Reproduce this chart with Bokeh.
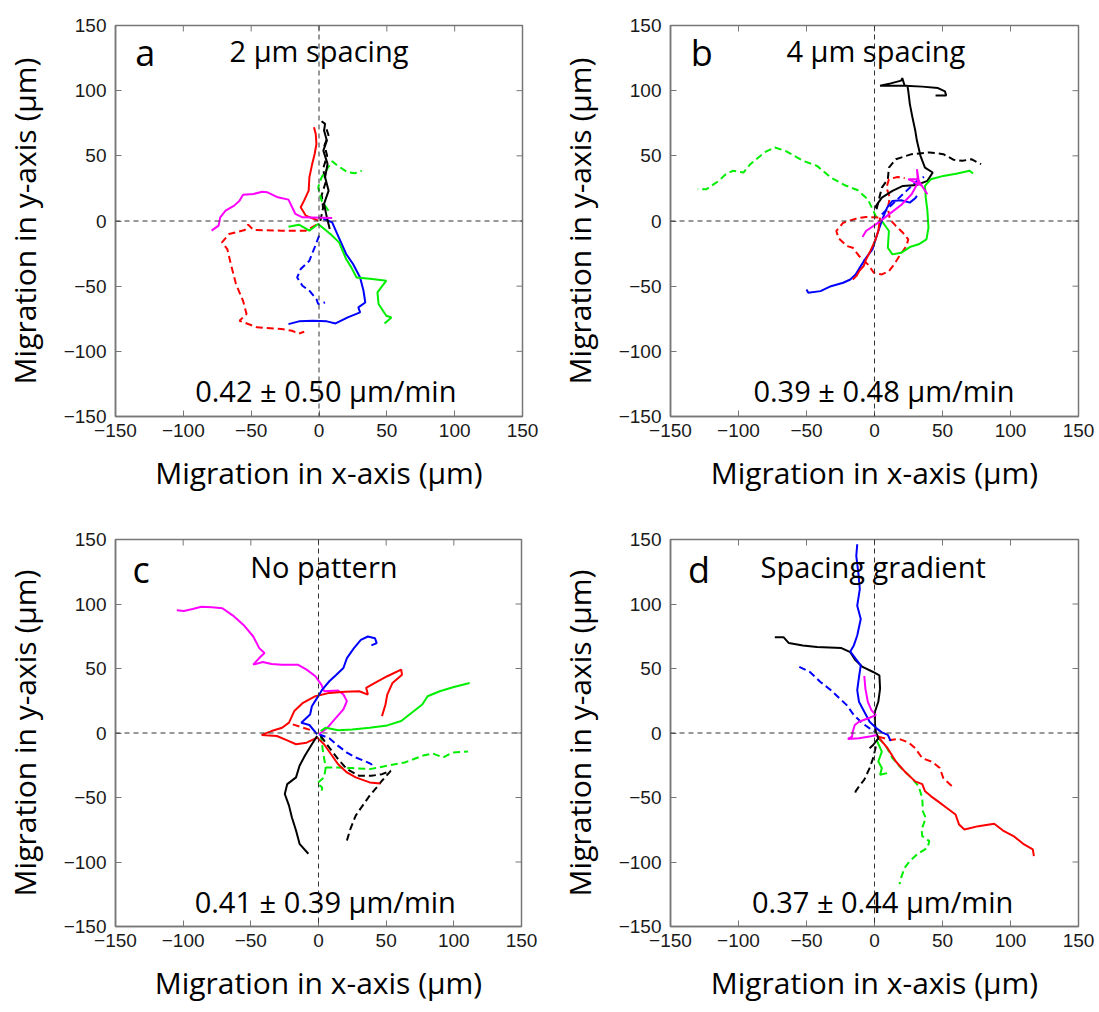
from bokeh.plotting import figure
from bokeh.layouts import column, row
from bokeh.models import Range1d, FixedTicker, Span, Label
from bokeh.embed import file_html
from bokeh.resources import INLINE

# ---------------- data ----------------
TICKS = [-150, -100, -50, 0, 50, 100, 150]
PANEL_LETTERS = ["a", "b", "c", "d"]
PANEL_TITLES = ["2 μm spacing", "4 μm spacing", "No pattern", "Spacing gradient"]
PANEL_SPEEDS = ["0.42 ± 0.50 μm/min", "0.39 ± 0.48 μm/min", "0.41 ± 0.39 μm/min", "0.37 ± 0.44 μm/min"]
X_LABEL = "Migration in x-axis (μm)"
Y_LABEL = "Migration in y-axis (μm)"

# panel a : 2 um spacing
a_magenta_x = [9.7, -12.2, -17.4, -22.5, -30.3, -38, -41.9, -48.3, -56, -58.6, -62.5, -68.9, -72.8, -74, -79.2]
a_magenta_y = [2.3, 2.8, 5.4, 16.4, 18.2, 22, 22.5, 20.7, 20.2, 15.6, 11.8, 7.9, 2.8, -3.6, -7.4]
a_red_dash_x = [-2, -9.7, -27.7, -48.3, -52.2, -54.7, -66.3, -71.5, -67.6, -65, -61.2, -56, -53.4, -58.6, -45.7, -27.7, -20, -14.8, -10.9]
a_red_dash_y = [-3, -7.4, -7.4, -6.9, -2.8, -6.9, -10, -16.4, -21.5, -33, -48.4, -61.2, -71.4, -76.5, -81.6, -82.9, -84.2, -86.3, -85]
a_red_x = [-0.6, -9.7, -13.5, -11, -7.6, -7.1, -5, -3.2, -1.9, -2.4, -3.7]
a_red_y = [0.3, 4.1, 10.5, 15.6, 23.3, 33.5, 43.8, 51.4, 59.1, 66.8, 71.9]
a_black_x = [7.9, 5.8, 3.7, 7.1, 4.5, 6.3, 3.2, 5.8, 3.7, 4.5, 1.9]
a_black_y = [-6.1, 2.8, 13.1, 23.3, 33.5, 43.8, 54, 61.7, 69.4, 74.5, 76.5]
a_black_dash_x = [1, 3, 2, 5, 3, 6, 4, 7, 5]
a_black_dash_y = [0, 10, 20, 30, 40, 50, 58, 66, 72]
a_green_dash_x = [7, 1.9, -0.6, 1.9, 9.7, 13.5, 21.2, 26.4, 31.5]
a_green_dash_y = [7.9, 15.6, 25.9, 33.5, 45.8, 42.5, 37.4, 36.6, 38.6]
a_green_x = [-22.5, -14.8, -7.1, -0.6, 8.4, 14.8, 20, 23.8, 27.7, 39.3, 49.6, 43.1, 43.9, 49.6, 53.4, 48.3]
a_green_y = [-4.4, -2.8, -7.4, -2.3, -10, -16.4, -29.2, -35.6, -43.3, -44.5, -45.8, -54.8, -63.7, -72.7, -74, -78.6]
a_blue_x = [3.2, 9.7, 13.5, 20, 25.1, 30.3, 32.8, 34.1, 29, 30.3, 21.2, 12.2, 5.8, -4.5, -14.8, -22.5]
a_blue_y = [1.5, -1, -10, -25.3, -33, -43.3, -53.5, -62.5, -66.3, -70.1, -74, -78.6, -77, -76.5, -77, -79.1]
a_blue_dash_x = [0.1, -3.2, -7.1, -13.5, -16.1, -12.2, -7.1, -1.9, -0.6, 4.5]
a_blue_dash_y = [-11.3, -20.2, -30.5, -36.9, -43.3, -49.7, -53.5, -59.9, -63.7, -62.5]

# panel b : 4 um spacing
b_black_x = [0.3, 5.4, 13.2, 20.9, 31.2, 38.9, 42.8, 37.1, 33.8, 31.2, 30, 27.9, 26, 24.8, 24.2, 4.1, 11.9, 19.6, 20.4, 22.2, 35.1, 46.7, 51.8, 52.7, 44.9]
b_black_y = [10.3, 17.9, 23.1, 26.9, 27.7, 30.8, 37.2, 41, 50, 61.5, 69.2, 79.5, 89.7, 100, 103.8, 103.8, 105.6, 107.7, 109.7, 103.8, 103.1, 102, 99.5, 96.2, 96.2]
b_black_dash_x = [1.5, 5.4, 9.8, 10.6, 15.7, 27.3, 40.2, 50.6, 58.3, 64.7, 71.2, 78.4]
b_black_dash_y = [9, 25.6, 32.1, 41, 47.4, 51.3, 52.6, 51.3, 46.9, 46.2, 47.4, 43.6]
b_green_dash_x = [1.5, -4.9, -12.6, -21.7, -32, -42.3, -52.6, -65.5, -73.3, -81, -91.3, -96.4, -104.2, -109.4, -114.5, -123.6, -130]
b_green_dash_y = [2.6, 16.7, 23.8, 27.4, 33.3, 42.3, 46.2, 53.8, 56.4, 52.6, 43.6, 37.2, 38.5, 35.9, 30.8, 24.4, 24.4]
b_green_x = [5.4, 10.6, 9.8, 13.2, 19.6, 26, 32.5, 38.2, 39.7, 38.9, 37.7, 37.1, 41.5, 50.6, 60.9, 69.9, 72.5]
b_green_y = [0, -7.7, -20.5, -25.6, -24.4, -20, -17.9, -14.1, -5.1, 7.7, 17.9, 26.9, 32.1, 34.6, 36.4, 38.5, 36.4]
b_red_dash_x = [2.8, -6.2, -12.6, -23, -28.1, -26.3, -20.4, -16, -11.3, -4.9, -0.5, 5.4, 10.6, 14.4, 19.1, 23.5, 24.8, 20.9, 15.7, 11.3, 9.8, 11.3, 8.8, 10.6, 17, 22.2]
b_red_dash_y = [2.6, 3.1, 2.1, -1.3, -7.7, -13.3, -19.2, -20.5, -26.9, -33.3, -39.7, -41, -38.5, -33.3, -25.6, -19.2, -14.1, -9, -3.8, 1.3, 10.3, 17.9, 25.6, 32.1, 33.8, 32.8]
b_red_x = [4.1, 2.8, 0.3, -3.1, -6.2, -8, -11.3, -13.4, -16]
b_red_y = [2.6, -7.7, -15.4, -23.1, -29.5, -34.6, -38.5, -42.3, -44.9]
b_blue_x = [-50, -48.7, -39.7, -32, -23, -17.8, -13.9, -10.1, -6.2, -1.5, 1, 2.8, 6.2, 9.3, 13.2, 19.6, 26, 29.9, 31.2]
b_blue_y = [-52.6, -55.1, -53.8, -50, -47.4, -44.9, -41, -34.6, -28.2, -21.8, -13.3, -7.7, 2.6, 10.3, 15.4, 15.9, 14.1, 17.4, 19.2]
b_blue_dash_x = [5.4, 15.7, 23.5, 31.2, 36.4]
b_blue_dash_y = [5.1, 15.4, 23.1, 30.8, 33.8]
b_magenta_x = [-8.8, -6.2, 2.8, 10.6, 19.6, 27.3, 32, 31.2, 32.5, 38.9, 35, 24.8, 32.5]
b_magenta_y = [-12.3, -7.7, -1.3, 5.1, 12.3, 20.5, 29.5, 39.7, 30.8, 20.5, 26.9, 32.1, 32.1]

# panel c : no pattern
c_magenta_x = [0.3, 6.7, 11.9, 18.4, 21, 18.4, 14.5, 4.1, 2.1, -2.3, -8.8, -15.3, -26.9, -34.7, -41.2, -48.2, -43.8, -39.9, -43.8, -48.2, -55.4, -63.2, -71, -78.8, -86.5, -93, -99.5, -104.7]
c_magenta_y = [-1, 4.1, 10.5, 18.3, 24.7, 29.8, 32.9, 32.4, 37.5, 44, 49.1, 53, 53, 53.5, 55, 53, 58.1, 62, 65.8, 74.8, 83.8, 91, 96.7, 97.4, 97.9, 96.1, 94.6, 95.1]
c_blue_x = [-1, -6.7, -12.7, -6.2, -4.9, -1, 2.8, 8, 13.2, 18.4, 21, 26.2, 31.3, 36.5, 41.7, 43, 39.1]
c_blue_y = [-1, 6.2, 8, 14.4, 20.8, 27.2, 33.7, 40.1, 45.2, 50.4, 58.1, 65.8, 72.2, 74.8, 73.5, 69.7, 67.9]
c_red_x = [45.6, 37.8, 27.5, 21, 14.5, 9.3, 4.1, -1, -8.8, -16.6, -23.1, -30.8, -42, -34.7, -26.9, -21.8, -17.9, -11.4, -2.3, 8, 19.7, 30.1, 36.5, 35.2, 41.7, 50.8, 61.1, 61.7, 54.7, 50.8, 49.5, 46.9]
c_red_y = [-39.1, -38.3, -34.4, -30.6, -24.2, -16.5, -8.7, -3.6, -7.5, -8.7, -5.7, -2.3, -1.5, 1.5, 4.1, 8, 17, 23.4, 28.5, 31.1, 31.9, 32.4, 29.8, 35, 38.8, 44, 49.1, 45.2, 38.8, 29.8, 22.1, 13.1]
c_red_dash_x = [-19, -11.4, -3.6]
c_red_dash_y = [6.7, 4.1, 1.5]
c_green_x = [1.6, 5.4, 14.5, 24.9, 37.8, 50.8, 61.1, 68.9, 76.7, 80.6, 89.6, 100, 111.7]
c_green_y = [1.5, 4.1, 2.1, 2.8, 4.1, 5.9, 9.3, 15.7, 22.1, 28.5, 32.4, 35.7, 38.8]
c_green_dash_x = [1.6, 3.6, 5.4, 13.2, 24.9, 37.8, 50.8, 63.7, 76.7, 84.5, 92.2, 98.7, 110.4]
c_green_dash_y = [-1, -16.5, -26.7, -26.7, -27.2, -28, -25.4, -22.9, -17.7, -15.9, -19, -15.2, -14.4]
c_green_dash2_x = [5.4, 4.1, -1, 2.8, 2.1]
c_green_dash2_y = [-26.7, -34.4, -39.1, -42.2, -46]
c_black_x = [-1, -4.9, -10.1, -14, -16.6, -23.1, -24.9, -21.8, -19.7, -16.6, -14, -7.5]
c_black_y = [-2.3, -8.7, -17.7, -25.4, -34.4, -39.6, -47.3, -56.3, -65.3, -75.6, -85.9, -93.6]
c_black_dash_x = [1.6, 8, 14.5, 21, 30.1, 39.1, 46.9, 53.4, 46.9, 43, 37.8, 32.6, 27.5, 23.6, 21]
c_black_dash_y = [-2.3, -11.3, -20.3, -28, -33.2, -33.2, -31.9, -29.3, -37, -42.2, -48.6, -56.3, -64, -74.3, -83.3]
c_blue_dash_x = [0.3, 8, 14.5, 21, 27.5, 33.9, 39.1, 39.1]
c_blue_dash_y = [-1, -4.1, -10, -15.2, -19, -21.6, -24.2, -26.7]

# panel d : spacing gradient
d_blue_x = [-12.7, -13.4, -11.9, -10.8, -12.7, -10.1, -12.7, -15.2, -17.8, -13.9, -10.1, -11.4, -12.7, -11.4, -7.5, -3.6, 1.5, 5.4, 9.8, 11.9]
d_blue_y = [146.3, 137.3, 124.4, 111.6, 98.7, 88.4, 75.6, 67.9, 63.2, 57.6, 52.4, 43.4, 33.2, 24.2, 16.5, 8.7, 3.6, 0.5, -1.5, -6.2]
d_blue_dash_x = [-55.3, -47.5, -39.8, -32, -25.6, -20.4, -15.2, -8.8, -3.6, 0.3]
d_blue_dash_y = [51.2, 47.3, 39.6, 33.2, 26.7, 21.6, 13.9, 7.5, 3.6, 1]
d_black_x = [-73.3, -66.9, -63, -52.7, -42.3, -24.3, -17.8, -13.9, -8.8, -1, 3.6, 4.1, 2.8, 0.3, 0.3, 1, 2.8, -1, -3.6]
d_black_y = [74.3, 74.3, 69.7, 67.9, 66.6, 65.8, 62.7, 56.3, 51.2, 47.3, 44.7, 34.4, 24.2, 16.5, 7.5, 1, -4.1, -9.3, -11.8]
d_black_dash_x = [1, -1, -3.6, -7.5, -11.4, -13.9, -14.5]
d_black_dash_y = [-10.5, -19.5, -27.2, -36.2, -41.4, -45.2, -49.1]
d_magenta_x = [-7.5, -6.7, -4.9, -2.3, 1, -3.6, -11.4, -14.5, -16, -16.5, -19.6, -11.4, -3.6, 1.5]
d_magenta_y = [44.2, 34.4, 24.2, 17.7, 13.9, 11.8, 8.7, 6.2, 1, -2.8, -4.6, -4.1, -2.8, -1.5]
d_red_x = [1.5, 9.3, 15.7, 22.2, 29.9, 35.1, 37.2, 41.6, 46.7, 53.2, 59.6, 62.2, 66.1, 76.4, 88, 94.5, 102.2, 110, 116.4, 117.2]
d_red_y = [-1.5, -11.3, -22.1, -29.8, -37.5, -39.6, -45.2, -49.1, -53, -58.1, -63.2, -71, -74.8, -72.2, -70.4, -75.6, -79.9, -86.4, -90.2, -95.4]
d_red_dash_x = [2.8, 11.9, 18.3, 24.8, 29.9, 35.1, 42.9, 48, 50.6, 57.1]
d_red_dash_y = [-2.8, -5.4, -4.6, -7.2, -11.8, -19.5, -22.6, -27.2, -35, -41.4]
d_green_x = [1.5, 5.4, 2.8, 5.4, 4.1, 9.3]
d_green_y = [-5.4, -14.4, -22.1, -27.2, -32.4, -31.1]
d_green_dash_x = [2.8, 8, 13.2, 19.6, 27.4, 32.5, 35.1, 35.6, 37.7, 34.6, 35.1, 40.3, 39, 31.2, 26.1, 22.2, 19.6, 18.3]
d_green_dash_y = [-4.1, -9.3, -19.5, -27.2, -35, -41.4, -50.4, -60.7, -65.8, -74.8, -79.9, -83.8, -88.9, -94.1, -99.2, -104.4, -112.1, -117.2]

RED, GREEN, BLUE, BLACK, MAGENTA = "#ff0000", "#00ee00", "#0000ff", "#000000", "#ff00ff"

TRACKS = [
    [  # a
        (a_red_dash_x, a_red_dash_y, RED, True),
        (a_blue_dash_x, a_blue_dash_y, BLUE, True),
        (a_black_dash_x, a_black_dash_y, BLACK, True),
        (a_green_dash_x, a_green_dash_y, GREEN, True),
        (a_blue_x, a_blue_y, BLUE, False),
        (a_green_x, a_green_y, GREEN, False),
        (a_red_x, a_red_y, RED, False),
        (a_black_x, a_black_y, BLACK, False),
        (a_magenta_x, a_magenta_y, MAGENTA, False),
    ],
    [  # b
        (b_green_dash_x, b_green_dash_y, GREEN, True),
        (b_black_dash_x, b_black_dash_y, BLACK, True),
        (b_red_dash_x, b_red_dash_y, RED, True),
        (b_blue_dash_x, b_blue_dash_y, BLUE, True),
        (b_black_x, b_black_y, BLACK, False),
        (b_green_x, b_green_y, GREEN, False),
        (b_blue_x, b_blue_y, BLUE, False),
        (b_red_x, b_red_y, RED, False),
        (b_magenta_x, b_magenta_y, MAGENTA, False),
    ],
    [  # c
        (c_green_dash_x, c_green_dash_y, GREEN, True),
        (c_green_dash2_x, c_green_dash2_y, GREEN, True),
        (c_black_dash_x, c_black_dash_y, BLACK, True),
        (c_blue_dash_x, c_blue_dash_y, BLUE, True),
        (c_red_dash_x, c_red_dash_y, RED, True),
        (c_magenta_x, c_magenta_y, MAGENTA, False),
        (c_green_x, c_green_y, GREEN, False),
        (c_red_x, c_red_y, RED, False),
        (c_blue_x, c_blue_y, BLUE, False),
        (c_black_x, c_black_y, BLACK, False),
    ],
    [  # d
        (d_green_dash_x, d_green_dash_y, GREEN, True),
        (d_red_dash_x, d_red_dash_y, RED, True),
        (d_blue_dash_x, d_blue_dash_y, BLUE, True),
        (d_black_dash_x, d_black_dash_y, BLACK, True),
        (d_red_x, d_red_y, RED, False),
        (d_green_x, d_green_y, GREEN, False),
        (d_black_x, d_black_y, BLACK, False),
        (d_blue_x, d_blue_y, BLUE, False),
        (d_magenta_x, d_magenta_y, MAGENTA, False),
    ],
]

# ---------------- layout ----------------
# (width, height, border_left, border_right, border_top, border_bottom)
GEOM = [
    (550, 505, 113, 28, 25, 89),
    (549, 505, 120, 21, 25, 89),
    (550, 507, 114, 29, 34, 86),
    (549, 507, 120, 21, 34, 86),
]
# text positions (data coords): letter, title, speed
LETTER_POS = [(-128, 129), (-127, 129), (-131, 127), (-129, 127)]
TITLE_POS = [(0, 131), (1, 131), (4, 129), (-1, 129)]
SPEED_POS = [(5, -130), (7, -130), (5, -131), (6, -131)]

TEXT_FONT = "Open Sans"
TICK_FONT = "Liberation Sans"
FRAME_COLOR = "#777777"
TICK_PX = 6


def make_panel(i):
    w, h, bl, br, bt, bb = GEOM[i]
    p = figure(width=w, height=h, x_range=Range1d(-150, 150), y_range=Range1d(-150, 150),
               output_backend="svg", toolbar_location=None,
               min_border_left=bl, min_border_right=br, min_border_top=bt, min_border_bottom=bb)
    p.grid.visible = False
    p.background_fill_color = "white"
    p.border_fill_color = "white"
    p.outline_line_color = FRAME_COLOR
    p.outline_line_width = 1.5

    for ax in (p.xaxis[0], p.yaxis[0]):
        ax.ticker = FixedTicker(ticks=TICKS)
        ax.major_tick_in = TICK_PX
        ax.major_tick_out = 0
        ax.minor_tick_line_color = None
        ax.major_tick_line_color = FRAME_COLOR
        ax.axis_line_color = FRAME_COLOR
        ax.axis_line_width = 1.5
        ax.major_label_text_font = TICK_FONT
        ax.major_label_text_font_size = "19px"
        ax.major_label_text_color = "#1a1a1a"
        ax.axis_label_text_font = TEXT_FONT
        ax.axis_label_text_font_size = "30px"
        ax.axis_label_text_font_style = "normal"
        ax.axis_label_text_color = "#000000"
    p.xaxis[0].axis_label = X_LABEL
    p.yaxis[0].axis_label = Y_LABEL
    p.xaxis[0].major_label_standoff = 7
    p.xaxis[0].axis_label_standoff = 12
    p.yaxis[0].major_label_standoff = 9
    p.yaxis[0].axis_label_standoff = 16

    # inward tick marks on the top and right frame edges
    fw = w - bl - br
    fh = h - bt - bb
    dx = TICK_PX * 300.0 / fw
    dy = TICK_PX * 300.0 / fh
    inner = TICKS[1:-1]
    p.segment(x0=inner, y0=[150] * len(inner), x1=inner, y1=[150 - dy] * len(inner),
              line_color=FRAME_COLOR, line_width=1)
    p.segment(x0=[150] * len(inner), y0=inner, x1=[150 - dx] * len(inner), y1=inner,
              line_color=FRAME_COLOR, line_width=1)

    p.add_layout(Span(location=0, dimension="width", line_color="#333333", line_width=1, line_dash="5 4"))
    p.add_layout(Span(location=0, dimension="height", line_color="#333333", line_width=1, line_dash="5 4"))

    for xs, ys, col, dashed in TRACKS[i]:
        if dashed:
            p.line(xs, ys, line_color=col, line_width=2, line_dash="7 4")
        else:
            p.line(xs, ys, line_color=col, line_width=2)

    lx, ly = LETTER_POS[i]
    p.add_layout(Label(x=lx, y=ly, text=PANEL_LETTERS[i], text_font=TEXT_FONT, text_font_size="36px",
                       text_align="center", text_baseline="middle", text_color="black"))
    tx, ty = TITLE_POS[i]
    p.add_layout(Label(x=tx, y=ty, text=PANEL_TITLES[i], text_font=TEXT_FONT, text_font_size="29px",
                       text_align="center", text_baseline="middle", text_color="black"))
    sx, sy = SPEED_POS[i]
    p.add_layout(Label(x=sx, y=sy, text=PANEL_SPEEDS[i], text_font=TEXT_FONT, text_font_size="29px",
                       text_align="center", text_baseline="middle", text_color="black"))
    return p


panels = [make_panel(i) for i in range(4)]
layout = column(row(panels[0], panels[1]), row(panels[2], panels[3]))

open("out.html", "w").write(file_html(layout, INLINE))
